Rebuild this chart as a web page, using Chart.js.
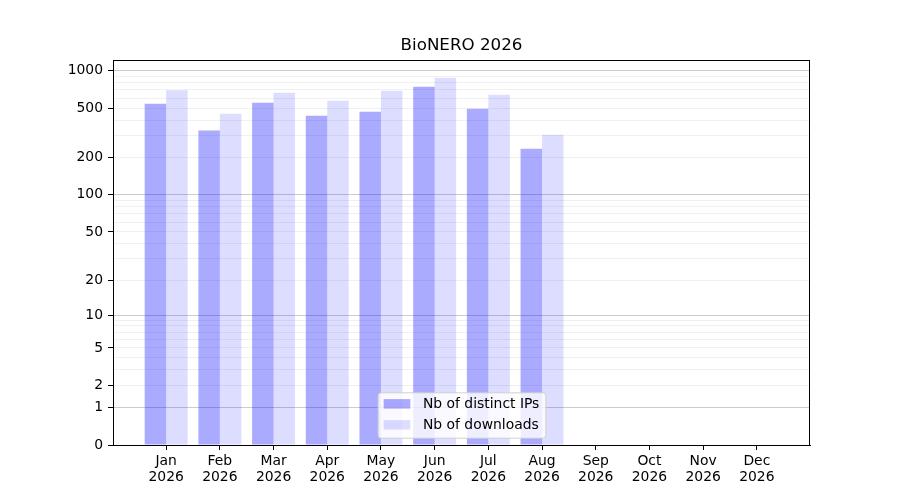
<!DOCTYPE html>
<html><head><meta charset="utf-8">
<script src="https://cdn.jsdelivr.net/npm/chart.js@4.4.1/dist/chart.umd.min.js"></script>
<style>html,body{margin:0;padding:0;background:#fff}#wrap{width:900px;height:500px;position:relative}</style>
</head><body><div id="wrap"><canvas id="c"></canvas></div>
<script>
const TITLE = 'BioNERO 2026';
const MONTHS = ['Jan','Feb','Mar','Apr','May','Jun','Jul','Aug','Sep','Oct','Nov','Dec'];
const YEAR = '2026';
const SERIES_LABELS = ['Nb of distinct IPs', 'Nb of downloads'];
const DISTINCT_IPS = [543, 330, 553, 435, 468, 743, 494, 236, 0, 0, 0, 0];
const DOWNLOADS = [694, 451, 665, 573, 690, 877, 640, 306, 0, 0, 0, 0];
const Y_LABELED_TICKS = [0, 1, 2, 5, 10, 20, 50, 100, 200, 500, 1000];
const Y_MAJOR_TICKS = [0, 1, 10, 100, 1000];
const Y_MINOR_TICKS = [2,3,4,5,6,7,8,9,20,30,40,50,60,70,80,90,200,300,400,500,600,700,800,900];
const Y_MAX = 1215;
const X_MIN = -0.99, X_MAX = 11.99;

const FONT = '"DejaVu Sans", "Liberation Sans", sans-serif';

class Log1pScale extends Chart.Scale {
  determineDataLimits() { this.min = this.options.min; this.max = this.options.max; }
  buildTicks() {
    const all = Array.from(new Set(Y_MAJOR_TICKS.concat(Y_MINOR_TICKS))).sort((a,b)=>a-b);
    return all.filter(v => v >= this.min && v <= this.max).map(v => ({value: v}));
  }
  getLabelForValue(v) { return String(v); }
  configure() {
    super.configure();
    this._s = Math.log10(1 + this.min);
    this._r = Math.log10(1 + this.max) - this._s;
  }
  getPixelForValue(v) {
    if (v === null || v === undefined || isNaN(v)) return NaN;
    return this.getPixelForDecimal((Math.log10(1 + v) - this._s) / this._r);
  }
  getValueForPixel(p) { return Math.pow(10, this._s + this.getDecimalForPixel(p) * this._r) - 1; }
}
Log1pScale.id = 'log1p';
Log1pScale.defaults = {};
Chart.register(Log1pScale);

const COLORS = ['rgba(0,0,255,0.333)', 'rgba(0,0,255,0.133)'];

const framePlugin = {
  id: 'frameAndLegend',
  afterDraw(chart) {
    const ctx = chart.ctx, a = chart.chartArea;
    // legend
    ctx.save();
    ctx.font = '13.9px ' + FONT;
    const labels = chart.data.datasets.map(d => d.label);
    const tw = Math.max(...labels.map(l => ctx.measureText(l).width));
    const w = 6 + 26.7 + 12.6 + tw + 6;
    const h = 45.4;
    const x0 = (a.left + a.right) / 2 - w / 2;
    const y0 = a.bottom - 7.3 - h;
    ctx.beginPath();
    ctx.roundRect(x0 + 0.5, y0 + 0.5, w, h, 3);
    ctx.fillStyle = 'rgba(255,255,255,0.8)';
    ctx.fill();
    ctx.strokeStyle = 'rgba(204,204,204,0.9)';
    ctx.lineWidth = 1;
    ctx.stroke();
    chart.data.datasets.forEach((d, i) => {
      const cy = y0 + 11.8 + i * 21;
      ctx.fillStyle = d.backgroundColor;
      ctx.fillRect(x0 + 6, cy - 5, 26.7, 9.5);
      ctx.fillStyle = '#000';
      ctx.textBaseline = 'middle';
      ctx.textAlign = 'left';
      ctx.fillText(d.label, x0 + 6 + 26.7 + 12.6, cy);
    });
    // frame
    ctx.strokeStyle = '#000';
    ctx.lineWidth = 1;
    ctx.strokeRect(Math.round(a.left) + 0.5, Math.round(a.top) + 0.5, Math.round(a.right - a.left) - 1, Math.round(a.bottom - a.top) - 1 + 1);
    ctx.restore();
  }
};

new Chart(document.getElementById('c'), {
  type: 'bar',
  data: {
    datasets: [
      { label: SERIES_LABELS[0], data: DISTINCT_IPS.map((v, i) => ({x: i, y: v})), backgroundColor: COLORS[0], borderWidth: 0 },
      { label: SERIES_LABELS[1], data: DOWNLOADS.map((v, i) => ({x: i, y: v})), backgroundColor: COLORS[1], borderWidth: 0 }
    ]
  },
  options: {
    responsive: true,
    maintainAspectRatio: false,
    animation: false,
    devicePixelRatio: 1,
    layout: { padding: { left: 0, right: 90, top: 0, bottom: 0 } },
    datasets: { bar: { categoryPercentage: 0.8, barPercentage: 1.0 } },
    plugins: {
      legend: { display: false },
      tooltip: { enabled: false },
      title: {
        display: true, text: TITLE, fullSize: false, color: '#000',
        font: { family: FONT, size: 16.7, weight: 'normal', lineHeight: 1.2 },
        padding: { top: 36, bottom: 4 }
      }
    },
    scales: {
      x: {
        type: 'linear', min: X_MIN, max: X_MAX, offset: false,
        afterBuildTicks(s) { s.ticks = MONTHS.map((m, i) => ({value: i})); },
        afterFit(s) { s.height = 55; },
        grid: { display: true, drawOnChartArea: false, drawTicks: true, tickLength: 5, tickColor: '#000', offset: false },
        border: { display: true, color: '#000', width: 1 },
        ticks: {
          autoSkip: false, maxRotation: 0, padding: 3, color: '#000',
          font: { family: FONT, size: 13.9, lineHeight: 1.15 },
          callback: (v) => [MONTHS[v], YEAR]
        }
      },
      y: {
        type: 'log1p', min: 0, max: Y_MAX,
        afterFit(s) { s.width = 113; },
        grid: {
          display: true, drawOnChartArea: true, drawTicks: true, tickLength: 5, lineWidth: 1,
          color: (c) => Y_MAJOR_TICKS.includes(c.tick.value) ? 'rgba(128,128,128,0.4)' : 'rgba(128,128,128,0.12)',
          tickColor: (c) => Y_LABELED_TICKS.includes(c.tick.value) ? '#000' : 'rgba(0,0,0,0)'
        },
        border: { display: true, color: '#000', width: 1 },
        ticks: {
          autoSkip: false, padding: 5, color: '#000',
          font: { family: FONT, size: 13.9 },
          callback: (v) => Y_LABELED_TICKS.includes(v) ? String(v) : ''
        }
      }
    }
  },
  plugins: [framePlugin]
});
</script>
</body></html>
